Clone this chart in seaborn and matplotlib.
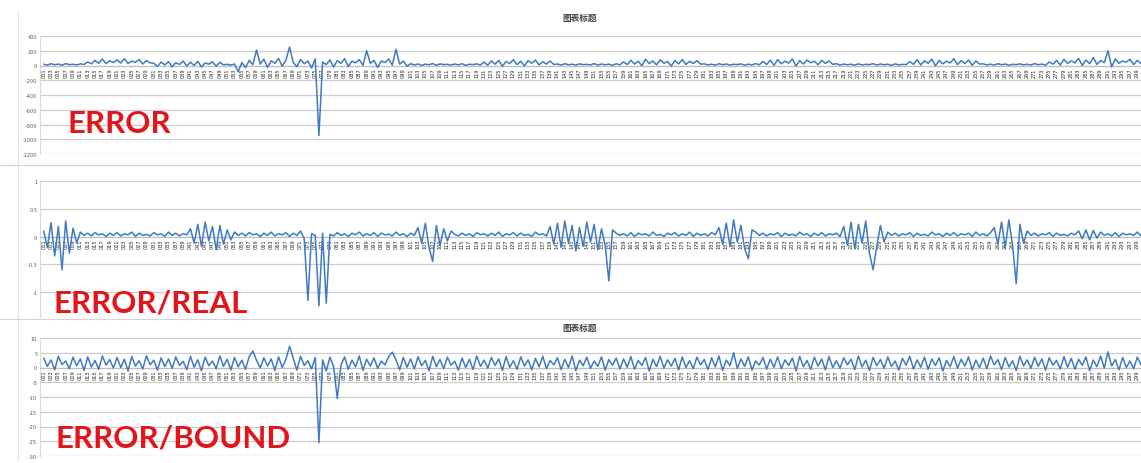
import numpy as np
import pandas as pd
import matplotlib
matplotlib.use("Agg")
import matplotlib.pyplot as plt
from matplotlib.lines import Line2D
import seaborn as sns

# ---- data -------------------------------------------------------------
# absolute prediction error per sample
error_abs = [
    18, 6, 24, 10, 20, 4, 26, 12, 16, 8, 22, 14, 48, 22, 70, 30, 88, 26, 64, 40,
    76, 34, 92, 28, 58, 44, 80, 20, 66, 36, 30, -12, 46, 8, 52, -18, 38, 14, 60, -6,
    44, 2, 56, -20, 34, 18, 50, -8, 42, 10, 16, 6, 20, -85, 40, -30, 70, 10, 210, 20,
    86, -24, 64, 30, 96, -10, 72, 250, 40, -16, 82, 24, 60, -34, 90, -950, 48, 12, 76, -20,
    66, 28, 94, -14, 58, 36, 80, 2, 200, 30, 70, -26, 62, 40, 88, 6, 220, 18, 60, -8,
    24, 8, 20, 2, 18, 10, 26, 4, 22, 12, 16, 6, 20, 8, 24, 2, 18, 12, 22, 6,
    46, 4, 62, 18, 70, -10, 54, 26, 80, 12, 58, -6, 66, 30, 74, 8, 50, 20, 60, 14,
    20, 6, 24, 10, 18, 4, 22, 12, 16, 8, 26, 6, 20, 10, 18, 4, 24, 8, 50, 12,
    70, 20, 58, -4, 84, 26, 62, 10, 76, 30, 54, -8, 68, 22, 80, 14, 56, 28, 64, 18,
    22, 8, 18, 4, 24, 10, 20, 6, 16, 12, 22, 4, 18, 8, 26, 10, 56, 14, 72, 2,
    80, 24, 60, 32, 90, -6, 66, 20, 74, 36, 58, 10, 70, 28, 62, 16, 24, 6, 20, 10,
    18, 4, 22, 8, 16, 12, 24, 6, 20, 10, 18, 2, 22, 8, 16, 12, 52, 16, 78, 8,
    64, 30, 86, -4, 70, 22, 58, 34, 92, 12, 66, 26, 74, 4, 60, 20, 22, 8, 18, 6,
    24, 10, 20, 4, 16, 12, 22, 8, 18, 6, 26, 10, 20, 4, 48, 18, 70, 6, 84, 28,
    62, 36, 96, 2, 74, 24, 110, 14, 68, 40, 200, -20, 90, 30, 60, 46, 84, 12, 70, 26,
]

# error relative to the real value, in percent
error_real_pct = [
    10, -20, 25, -35, 18, -60, 28, -30, 15, -12, 8, 2, 6, 1, 7, 3, 5, 0, 6, 2,
    7, 1, 5, 3, 8, 0, 6, 2, 4, 1, 7, 3, 5, 0, 8, 2, 6, 1, 5, 3,
    14, -12, 22, -18, 26, -8, 18, -24, 20, -14, 12, -6, 8, 2, 6, 1, 7, 3, 5, 0,
    6, 2, 8, 1, 5, 3, 7, 0, 6, 2, 10, -4, -115, 5, 2, -125, 6, -120, 4, 1,
    7, 2, 5, 0, 6, 3, 8, 1, 5, 2, 7, 0, 6, 3, 4, 1, 8, 2, 5, 0,
    6, 2, 16, -12, 24, -20, -45, 20, -16, 14, -8, 10, 4, 1, 6, 2, 5, 0, 7, 3,
    5, 1, 6, 2, 8, 0, 5, 3, 7, 1, 6, 2, 4, 0, 8, 3, 5, 1, 18, -14,
    24, -20, 28, -12, 20, -26, 16, -18, 26, -10, 22, -24, 14, -16, -80, 12, 6, 2, 5, 1,
    7, 0, 6, 3, 5, 1, 8, 2, 4, 0, 6, 3, 7, 1, 5, 2, 8, 0, 6, 2,
    5, 1, 7, 3, 16, -14, 24, -18, 30, -10, 20, -22, -40, 12, 8, 2, 6, 1, 5, 3,
    7, 0, 6, 2, 4, 1, 8, 3, 5, 0, 6, 2, 7, 1, 5, 3, 6, 0, 18, -16,
    26, -22, 22, -12, 28, -30, -60, -18, 20, -10, 8, 2, 6, 1, 5, 3, 7, 0, 6, 2,
    4, 1, 8, 3, 5, 0, 6, 2, 7, 1, 5, 3, 6, 0, 8, 2, 5, 1, 7, 16,
    -14, 26, -20, 30, -16, -85, 22, -12, 10, 2, 6, 1, 5, 3, 7, 0, 6, 2, 4, 1,
    6, 3, 10, -4, 12, -6, 11, -3, 8, 2, 5, 1, 7, 0, 6, 3, 5, 2, 8, 1,
]

# error divided by the tolerance bound
error_bound = [
    3.2, 0.4, 2.6, -0.8, 3.8, 1.0, 2.2, -0.4, 3.5, 0.6, 2.9, -1.0, 3.6, 0.2, 2.4, -0.6, 3.9, 0.8, 2.7, -0.2,
    3.4, 0.0, 2.8, -1.2, 3.7, 0.5, 2.3, -0.5, 4.0, 0.9, 2.5, -0.9, 3.3, 0.3, 2.9, -0.3, 3.6, 0.7, 2.1, -0.7,
    3.8, 0.1, 2.6, -1.1, 3.5, 0.6, 2.2, -0.4, 3.9, 0.4, 2.8, -0.8, 3.4, 0.2, 2.5, -0.6, 3.7, 5.6, 2.4, -0.1,
    3.3, 0.5, 2.9, -1.0, 3.6, 0.0, 2.7, 7.2, 3.1, -0.9, 3.8, 0.7, 2.3, -0.5, 3.4, -25.5, 2.6, -1.2, 3.5, 0.3,
    -10.5, 0.8, 3.6, -0.6, 2.5, 0.2, 3.9, -1.0, 2.8, 0.5, 3.3, -0.3, 2.2, 0.9, 3.7, 5.2, 2.6, -0.8, 3.4, 0.1,
    2.9, -0.5, 3.6, 0.6, 2.4, -1.1, 3.8, 0.3, 2.7, -0.4, 3.5, 0.8, 2.1, -0.9, 3.2, 0.0, 2.8, -0.7, 3.9, 0.4,
    2.5, -0.2, 3.4, 0.7, 2.9, -1.0, 3.7, 0.1, 2.3, -0.6, 3.6, 0.5, 2.6, -0.8, 3.1, 0.2, 3.8, -0.4, 2.4, 0.9,
    3.3, -0.7, 2.8, 0.0, 3.9, -1.1, 2.5, 0.6, 3.5, -0.3, 2.2, 0.4, 3.6, -0.9, 2.7, 0.8, 3.2, -0.5, 2.9, 0.1,
    3.7, -0.6, 2.4, 0.7, 3.4, -1.2, 2.8, 0.3, 3.8, -0.2, 2.6, 0.5, 3.1, -0.8, 3.6, 0.0, 2.3, -0.4, 3.5, 0.9,
    2.7, -0.7, 3.3, 0.2, 3.9, -1.0, 2.5, 0.6, 5.0, -0.3, 2.9, 0.4, 3.6, -0.9, 2.2, 0.8, 3.4, -0.5, 2.8, 0.1,
    3.6, -0.4, 2.6, 0.7, 3.2, -1.1, 3.8, 0.3, 2.4, -0.6, 3.5, 0.5, 2.9, -0.8, 3.7, 0.0, 2.3, -0.2, 3.3, 0.9,
    2.8, -0.7, 3.9, 0.2, 2.5, -1.0, 3.4, 0.6, 2.7, -0.3, 3.6, 0.4, 2.2, -0.9, 3.1, 0.8, 3.8, -0.5, 2.6, 0.1,
    3.5, -0.6, 2.9, 0.7, 3.3, -1.2, 2.4, 0.3, 3.7, -0.2, 2.8, 0.5, 3.6, -0.8, 2.5, 0.0, 3.2, -0.4, 3.9, 0.9,
    2.7, -0.7, 3.4, 0.2, 2.3, -1.0, 3.8, 0.6, 2.6, -0.3, 3.5, 0.4, 2.9, -0.9, 3.3, 0.8, 2.4, -0.5, 3.7, 0.1,
    3.1, -0.6, 2.8, 0.7, 3.6, -1.1, 2.5, 0.3, 3.9, -0.2, 5.3, 0.5, 2.7, -0.8, 3.4, 0.0, 2.2, -0.4, 3.5, 0.9,
]

sample_idx = list(range(len(error_abs)))
# category labels, one for every second sample
tick_positions = sample_idx[::2]
tick_labels = [f"{n + 1:03d}" for n in tick_positions]

panel_titles = ["图表标题", "图表标题"]
panel_names = ["ERROR", "ERROR/REAL", "ERROR/BOUND"]

y_ticks_abs = [400, 200, 0, -200, -400, -600, -800, -1000, -1200]
y_ticks_real = [1, 0.5, 0, -0.5, -1]
y_ticks_bound = [10, 5, 0, -5, -10, -15, -20, -25, -30]

df = pd.DataFrame({
    "sample": sample_idx,
    "error": error_abs,
    "error_real": np.array(error_real_pct) / 100.0,
    "error_bound": error_bound,
})

# ---- styling ----------------------------------------------------------
sns.set_theme(style="white")
plt.rcParams["font.family"] = ["DejaVu Sans"]

W, H = 1141, 464
fig = plt.figure(figsize=(W / 100, H / 100), dpi=100)
fig.patch.set_facecolor("white")

LINE = "#3f7ac2"
GRID = "#cdcdcd"
LABEL = "#595959"
RED = "#e3151a"


def px_axes(left, top, right, bottom):
    return fig.add_axes([left / W, 1 - bottom / H, (right - left) / W, (bottom - top) / H])


def style_panel(ax, col, yticks, ylim, fmt):
    sns.lineplot(data=df, x="sample", y=col, ax=ax, color=LINE, linewidth=1.1, zorder=3)
    ax.set_xlim(-1, len(sample_idx) - 1)
    ax.set_ylim(*ylim)
    # category axis crosses the value axis at zero
    for side in ("top", "right"):
        ax.spines[side].set_visible(False)
    ax.spines["left"].set_color("#d8d8d8")
    ax.spines["left"].set_linewidth(0.8)
    ax.spines["bottom"].set_position(("data", 0))
    ax.spines["bottom"].set_color("#bfbfbf")
    ax.spines["bottom"].set_linewidth(0.8)

    ax.set_yticks(yticks)
    ax.set_yticklabels([fmt(v) for v in yticks])
    ax.set_xticks(tick_positions)
    ax.set_xticklabels(tick_labels)
    ax.tick_params(axis="y", length=0, pad=2, labelsize=3.6, labelcolor=LABEL)
    ax.tick_params(axis="x", length=0, pad=1.5, labelsize=3.6,
                   labelcolor="#262626", labelrotation=90)
    ax.set_xlabel("")
    ax.set_ylabel("")
    ax.set_facecolor("none")
    ax.grid(axis="y", color=GRID, linewidth=0.9, zorder=0)
    ax.grid(axis="x", visible=False)
    ax.set_axisbelow(True)


ax1 = px_axes(40, 37, W, 155)
style_panel(ax1, "error", y_ticks_abs, (-1200, 400), lambda v: f"{v:d}")

ax2 = px_axes(40, 182, W, 318)
style_panel(ax2, "error_real", y_ticks_real, (-1.45, 1.0), lambda v: f"{v:g}")

ax3 = px_axes(40, 339, W, 457)
style_panel(ax3, "error_bound", y_ticks_bound, (-30, 10), lambda v: f"{v:d}")

# chart titles
cjk = ["Noto Sans CJK SC", "DejaVu Sans"]
fig.text(580 / W, 1 - 18 / H, panel_titles[0], ha="center", va="center",
         fontsize=6.2, color="#404040", family=cjk, fontweight="bold")
fig.text(580 / W, 1 - 328 / H, panel_titles[1], ha="center", va="center",
         fontsize=6.2, color="#404040", family=cjk, fontweight="bold")

# chart frame edges between the stacked charts
for yy in (166, 320):
    fig.add_artist(Line2D([0, 1], [1 - yy / H, 1 - yy / H], color="#d4d4d4", linewidth=0.8))
fig.add_artist(Line2D([18 / W, 18 / W], [1 - 12 / H, 1 - 462 / H], color="#e0e0e0", linewidth=0.8))

# panel captions
cap_font = ["Lato", "DejaVu Sans"]
fig.text(67 / W, 1 - 133 / H, panel_names[0], ha="left", va="baseline",
         fontsize=22.5, color=RED, fontweight="bold", family=cap_font)
fig.text(53 / W, 1 - 312 / H, panel_names[1], ha="left", va="baseline",
         fontsize=22.5, color=RED, fontweight="bold", family=cap_font)
fig.text(55 / W, 1 - 448 / H, panel_names[2], ha="left", va="baseline",
         fontsize=22.5, color=RED, fontweight="bold", family=cap_font)

fig.savefig("out.png", dpi=100, facecolor="white")
